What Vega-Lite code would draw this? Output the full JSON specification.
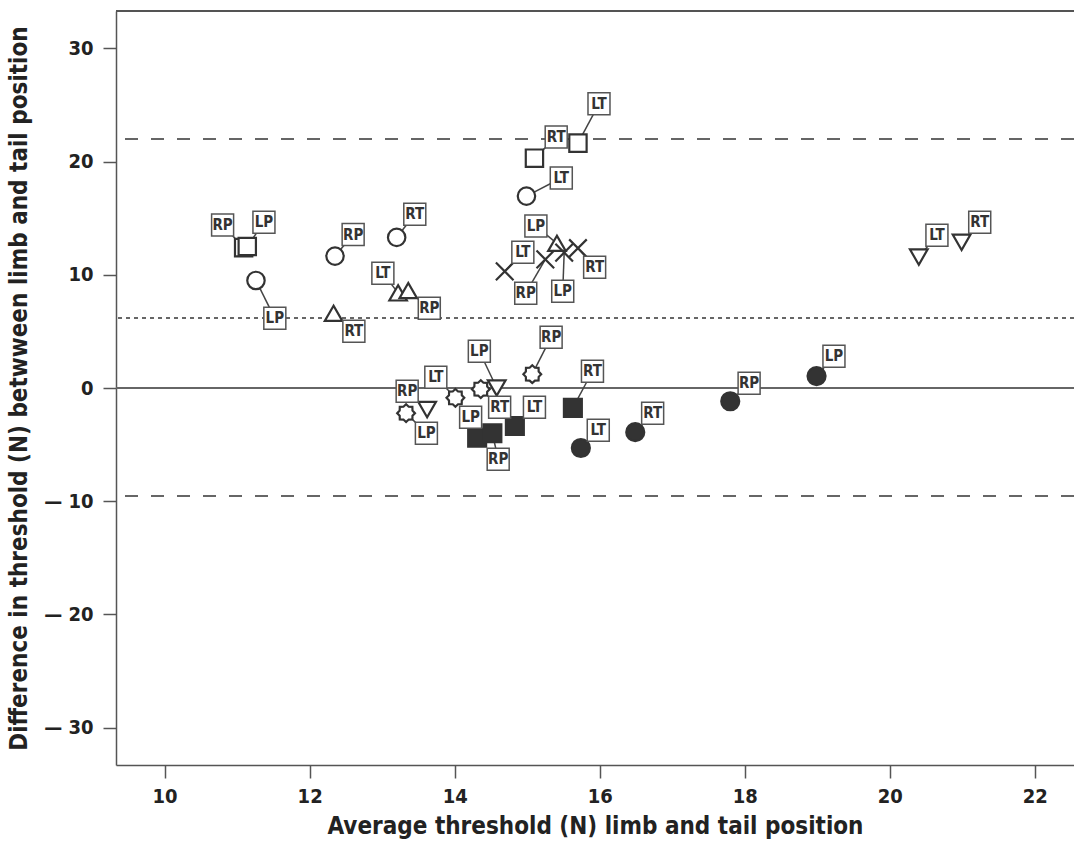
{
  "$schema": "https://vega.github.io/schema/vega-lite/v6.json",
  "width": 958,
  "height": 754,
  "autosize": {"type": "none"},
  "padding": {"left": 116, "top": 11, "right": 0, "bottom": 80},
  "background": "white",
  "config": {
    "view": {"stroke": null},
    "axis": {
      "grid": false,
      "domainColor": "#555555",
      "domainWidth": 1.5,
      "tickColor": "#555555",
      "tickWidth": 1.5,
      "tickSize": 13,
      "labelFont": "Liberation Sans Narrow, DejaVu Sans Condensed, sans-serif",
      "labelFontSize": 20,
      "labelFontWeight": "bold",
      "labelColor": "#222222",
      "titleFont": "Liberation Sans Narrow, DejaVu Sans Condensed, sans-serif",
      "titleFontSize": 24,
      "titleFontWeight": "bold",
      "titleColor": "#222222"
    }
  },
  "data": {
    "values": [
      {"g": "osq", "pos": "RP", "x": 11.09, "y": 12.4, "lx": 10.80, "ly": 14.39},
      {"g": "osq", "pos": "LP", "x": 11.14, "y": 12.5, "lx": 11.37, "ly": 14.65},
      {"g": "osq", "pos": "RT", "x": 15.10, "y": 20.3, "lx": 15.40, "ly": 22.16},
      {"g": "osq", "pos": "LT", "x": 15.70, "y": 21.63, "lx": 15.99, "ly": 25.1},
      {"g": "oci", "pos": "LP", "x": 11.26, "y": 9.5, "lx": 11.52, "ly": 6.15},
      {"g": "oci", "pos": "RP", "x": 12.35, "y": 11.65, "lx": 12.60, "ly": 13.55},
      {"g": "oci", "pos": "RT", "x": 13.20, "y": 13.3, "lx": 13.45, "ly": 15.35},
      {"g": "oci", "pos": "LT", "x": 14.99, "y": 16.95, "lx": 15.47, "ly": 18.55},
      {"g": "otu", "pos": "RT", "x": 12.33, "y": 6.6, "lx": 12.61, "ly": 5.02},
      {"g": "otu", "pos": "LT", "x": 13.22, "y": 8.4, "lx": 13.01, "ly": 10.14},
      {"g": "otu", "pos": "RP", "x": 13.36, "y": 8.6, "lx": 13.65, "ly": 7.05},
      {"g": "otu", "pos": "LP", "x": 15.41, "y": 12.78, "lx": 15.12, "ly": 14.3},
      {"g": "xx", "pos": "LT", "x": 14.69, "y": 10.3, "lx": 14.94, "ly": 12.0},
      {"g": "xx", "pos": "RP", "x": 15.25, "y": 11.36, "lx": 14.98, "ly": 8.37},
      {"g": "xx", "pos": "LP", "x": 15.51, "y": 11.96, "lx": 15.49, "ly": 8.55},
      {"g": "xx", "pos": "RT", "x": 15.70, "y": 12.35, "lx": 15.93, "ly": 10.67},
      {"g": "otd", "pos": "RP", "x": 13.62, "y": -1.9, "lx": 13.345, "ly": -0.28},
      {"g": "otd", "pos": "LP", "x": 14.58, "y": 0.0, "lx": 14.34, "ly": 3.25},
      {"g": "otd", "pos": "LT", "x": 20.40, "y": 11.57, "lx": 20.65, "ly": 13.5},
      {"g": "otd", "pos": "RT", "x": 20.99, "y": 12.87, "lx": 21.24, "ly": 14.65},
      {"g": "star", "pos": "LP", "x": 13.33, "y": -2.22, "lx": 13.61, "ly": -4.0},
      {"g": "star", "pos": "LT", "x": 14.01, "y": -0.87, "lx": 13.74, "ly": 0.95},
      {"g": "star", "pos": "RT", "x": 14.36, "y": -0.1, "lx": 14.62, "ly": -1.7},
      {"g": "star", "pos": "RP", "x": 15.07, "y": 1.22, "lx": 15.33, "ly": 4.49},
      {"g": "fsq", "pos": "LP", "x": 14.31, "y": -4.4, "lx": 14.22, "ly": -2.58},
      {"g": "fsq", "pos": "RP", "x": 14.52, "y": -4.0, "lx": 14.60, "ly": -6.3},
      {"g": "fsq", "pos": "LT", "x": 14.83, "y": -3.36, "lx": 15.10, "ly": -1.7},
      {"g": "fsq", "pos": "RT", "x": 15.63, "y": -1.76, "lx": 15.90, "ly": 1.48},
      {"g": "fci", "pos": "LT", "x": 15.74, "y": -5.3, "lx": 15.98, "ly": -3.73},
      {"g": "fci", "pos": "RT", "x": 16.49, "y": -3.9, "lx": 16.73, "ly": -2.24},
      {"g": "fci", "pos": "RP", "x": 17.80, "y": -1.17, "lx": 18.06, "ly": 0.42},
      {"g": "fci", "pos": "LP", "x": 18.99, "y": 1.05, "lx": 19.23, "ly": 2.8}
    ]
  },
  "layer": [
    {
      "mark": {"type": "rule", "color": "#666666", "strokeWidth": 1.5, "strokeDash": [13, 13]},
      "encoding": {"y": {"datum": 22, "type": "quantitative", "scale": {"domain": [-33.3, 33.3], "nice": false, "zero": false}}}
    },
    {
      "mark": {"type": "rule", "color": "#666666", "strokeWidth": 1.5, "strokeDash": [13, 13]},
      "encoding": {"y": {"datum": -9.57, "type": "quantitative"}}
    },
    {
      "mark": {"type": "rule", "color": "#666666", "strokeWidth": 1.5, "strokeDash": [4, 4]},
      "encoding": {"y": {"datum": 6.2, "type": "quantitative"}}
    },
    {
      "mark": {"type": "rule", "color": "#666666", "strokeWidth": 2},
      "encoding": {"y": {"datum": 0, "type": "quantitative"}}
    },
    {
      "mark": {"type": "rule", "color": "#555555", "strokeWidth": 1.5},
      "encoding": {"y": {"datum": 33.3, "type": "quantitative"}}
    },
    {
      "mark": {"type": "rule", "color": "#444444", "strokeWidth": 1.5},
      "encoding": {
        "x": {"field": "x", "type": "quantitative"},
        "y": {"field": "y", "type": "quantitative"},
        "x2": {"field": "lx"},
        "y2": {"field": "ly"}
      }
    },
    {
      "mark": {"type": "point", "filled": false, "stroke": "#333333", "strokeWidth": 2.2, "opacity": 1},
      "encoding": {
        "x": {
          "field": "x", "type": "quantitative",
          "scale": {"domain": [9.33, 22.54], "nice": false, "zero": false},
          "axis": {"values": [10, 12, 14, 16, 18, 20, 22], "format": "d", "title": "Average threshold (N) limb and tail position", "labelPadding": 8, "titlePadding": 8}
        },
        "y": {
          "field": "y", "type": "quantitative",
          "axis": {"values": [-30, -20, -10, 0, 10, 20, 30], "labelExpr": "datum.value < 0 ? '\u2014 ' + abs(datum.value) : datum.label", "title": "Difference in threshold (N) betwween limb and tail position", "labelPadding": 10, "titlePadding": 12}
        },
        "shape": {
          "field": "g", "type": "nominal", "legend": null,
          "scale": {
            "domain": ["osq", "oci", "otu", "xx", "otd", "star", "fsq", "fci"],
            "range": ["square", "circle", "triangle-up", "M-1,-1L1,1M-1,1L1,-1", "triangle-down", "M1,0L0.72,0.298L0.707,0.707L0.298,0.72L0,1L-0.298,0.72L-0.707,0.707L-0.72,0.298L-1,0L-0.72,-0.298L-0.707,-0.707L-0.298,-0.72L0,-1L0.298,-0.72L0.707,-0.707L0.72,-0.298Z", "square", "circle"]
          }
        },
        "fill": {
          "field": "g", "type": "nominal", "legend": null,
          "scale": {
            "domain": ["osq", "oci", "otu", "xx", "otd", "star", "fsq", "fci"],
            "range": ["#ffffff", "#ffffff", "#ffffff", "#ffffff", "#ffffff", "#ffffff", "#333333", "#333333"]
          }
        },
        "size": {
          "field": "g", "type": "nominal", "legend": null,
          "scale": {
            "domain": ["osq", "oci", "otu", "xx", "otd", "star", "fsq", "fci"],
            "range": [300, 324, 256, 130, 256, 210, 225, 256]
          }
        }
      }
    },
    {
      "mark": {"type": "point", "shape": "square", "size": 484, "filled": true, "fill": "#ffffff", "stroke": "#555555", "strokeWidth": 1.5, "opacity": 1},
      "encoding": {
        "x": {"field": "lx", "type": "quantitative"},
        "y": {"field": "ly", "type": "quantitative"}
      }
    },
    {
      "mark": {"type": "text", "font": "Liberation Sans Narrow, DejaVu Sans Condensed, sans-serif", "fontSize": 15, "fontWeight": "bold", "color": "#333333", "align": "center", "baseline": "middle"},
      "encoding": {
        "x": {"field": "lx", "type": "quantitative"},
        "y": {"field": "ly", "type": "quantitative"},
        "text": {"field": "pos"}
      }
    }
  ]
}
